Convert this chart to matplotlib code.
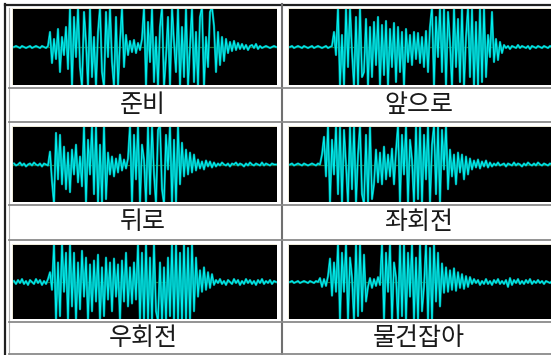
import numpy as np
import matplotlib
matplotlib.use("Agg")
import matplotlib.pyplot as plt
from matplotlib.patches import Rectangle

plt.rcParams['font.family'] = ['Noto Sans CJK KR', 'DejaVu Sans']

# command words under each waveform
words = ["준비", "앞으로", "뒤로", "좌회전", "우회전", "물건잡아"]

# waveform samples (px of deflection, +-40 means clipped)
junbi = [0,1,0,-1,1,0,-1,0,1,-1,0,1,0,-1,1,0,-1,1,
         15,-16,
         8,-12,18,-25,10,-8,20,-22,
         40,-40,30,-10,40,-20,-40,35,5,-40,40,-30,10,-40,15,40,-25,-40,35,-10,40,-15,-40,30,-40,5,40,-20,
         12,-8,6,-5,7,-6,4,-3,8,
         40,-40,25,-15,40,-35,10,-40,20,40,-40,-10,30,-40,40,5,-25,40,-40,20,-30,40,-40,0,40,-35,15,-40,30,40,-40,10,-20,35,40,
         21,-25,15,-18,10,-14,8,
         -6,5,-4,6,-3,4,-2,
         3,-2,2,-3,1,2,-1,3,-2,1,-1,
         0,1,0,-1,0,1,0]
apuro = [0,1,-1,0,1,0,-1,1,0,-1,0,1,-1,0,1,0,-1,0,1,-1,0,1,
         15,-8,
         40,-40,12,-40,40,-20,40,-5,-40,30,-40,40,-30,
         -25,28,-40,20,-30,25,-18,30,-40,22,-28,26,-40,18,-20,24,-35,20,-25,15,-40,18,-15,12,-18,15,-12,14,-16,10,-20,16,-25,20,
         40,-40,30,-10,40,-25,40,-40,35,5,-40,40,-20,28,-35,40,-40,10,40,-30,38,-40,25,-40,40,-35,40,-30,
         12,-10,35,-15,8,-13,5,-6,
         2,-1,1,-2,1,0,-1,2,-1,1,0,-1,1,-2,1,0,-1,1,0,-1,1,0,-1,1,0]
dwiro = [1,-1,0,2,-1,1,-2,0,1,-1,2,0,-1,1,-2,1,0,-1,
         13,-17,
         -40,32,-15,30,-20,
         18,-25,12,-28,15,-10,20,-18,8,-22,
         40,-40,25,-10,40,-30,40,-40,20,-40,40,-35,
         12,-10,8,-12,6,-8,10,-6,5,-4,6,
         40,-40,30,-15,40,-40,20,5,-40,40,-30,40,-10,-40,35,40,-25,-40,30,-5,40,-40,25,-40,40,-20,
         22,-12,15,-10,12,-8,10,-6,
         5,-4,3,-5,4,-2,3,-3,2,-2,
         1,-1,2,0,-1,1,-2,1,0,2,-1,1,0,-2,1,-1,2,0,-1,1,0,-1,2,-1,1,0,-1,1,0,0]
jwahoejeon = [0,1,-1,0,1,0,-1,1,0,-1,0,1,0,-1,1,0,
              10,28,-12,
              40,-40,25,-10,40,-30,40,-40,35,0,-40,40,-25,40,-40,10,40,-30,-40,30,-40,40,-35,
              -20,15,-18,12,-20,18,-15,10,-12,16,-20,14,
              40,-40,30,-10,40,-40,25,5,-40,40,-35,40,-40,30,-15,40,-40,20,40,-30,40,-40,35,-5,40,-25,
              15,-12,10,-20,12,-8,10,-15,8,-10,6,
              -5,4,-3,5,-4,3,-2,4,-3,2,-2,
              1,-1,2,-1,0,1,-2,1,0,-1,2,-1,1,0,-2,1,-1,2,0,-1,1,-1,2,0,-1,1,0,-1,1,0]
uhoejeon = [1,-2,2,-1,3,-2,1,-3,2,0,-2,3,-1,2,-3,1,-2,3,
            10,-8,
            40,-40,20,-35,40,-10,30,-40,40,
            -25,30,-40,20,-28,32,-15,25,-40,18,-30,22,-20,28,-40,15,-35,25,-18,20,-30,24,-15,18,-40,22,-20,30,-25,15,-22,20,-18,
            40,-40,30,-40,40,-40,25,-40,40,-30,-40,20,-40,15,-40,25,-35,40,-40,40,-40,30,-40,40,-40,35,-40,40,-30,25,
            -15,12,-10,15,-8,10,-6,8,
            -3,2,-1,3,-2,1,-3,2,0,-2,3,-1,2,-3,1,-2,3,-1,2,-2,1,-3,2,-1,3,-2,1,-1,2,-2,1,0]
mulgeon = [0,1,-1,0,1,-1,0,1,0,-1,1,0,-1,1,0,
           4,-5,3,-4,6,
           24,-14,20,-10,
           40,-40,30,-10,40,-40,25,5,-40,40,-35,40,-30,28,-20,
           -5,4,-6,3,-4,5,-3,
           40,-40,30,-10,40,-40,20,5,-40,40,-35,40,-40,30,-15,40,-40,25,-40,40,-30,-5,40,-40,35,-40,40,-20,30,-25,
           19,-11,15,-10,12,-8,14,-9,10,-6,8,-7,6,-5,5,
           -2,3,-1,2,-3,1,-2,3,-2,1,-3,2,-1,3,-2,1,-2,2,-5,4,-3,2,-1,3,-2,1,-2,2,-1,3,-2,1,-1,2,-1,1,-2,1,0,-1,1]
waves = [junbi, apuro, dwiro, jwahoejeon, uhoejeon, mulgeon]

W, H = 551, 355
fig = plt.figure(figsize=(W/100, H/100), dpi=100)
base = fig.add_axes([0, 0, 1, 1])
base.set_xlim(0, W); base.set_ylim(H, 0)
base.axis('off')

def figrect(x0, y0, x1, y1):
    return [x0/W, 1 - y1/H, (x1-x0)/W, (y1-y0)/H]

# table lines
grey = '#8a8a8a'
base.plot([5, W], [4.5, 4.5], color='#202020', lw=1.6)
base.plot([5, 5], [4, H], color='#202020', lw=1.6)
base.plot([9, 9], [8, H], color='#b0b0b0', lw=0.8)
base.plot([282, 282], [4, H], color='#707070', lw=1.5)
for y in [87.5, 122, 204.5, 240, 322, 354]:
    base.plot([9, W], [y, y], color=grey, lw=1.3)

cols = [(13, 277), (289, 553)]
rows = [(9, 85, 105), (127, 202, 222), (245, 319, 338)]
label_x = [143, 419]

for k in range(6):
    r, c = k // 2, k % 2
    x0, x1 = cols[c]
    y0, y1, ly = rows[r]
    base.add_patch(Rectangle((x0-1.5, y0-1.5), x1-x0+1.5, y1-y0+1.5, color='#ece9d8', lw=0))
    ax = fig.add_axes(figrect(x0, y0, x1, y1))
    ax.set_facecolor('black')
    ax.axhline(0, color='#2a6a2a', lw=0.9)
    xs = np.arange(len(waves[k]))
    ax.plot(xs, waves[k], color='#009c9c', lw=1.6)
    ax.plot(xs, waves[k], color='#00f4f4', lw=0.7)
    ax.set_xlim(-0.5, len(waves[k]) - 0.5)
    ax.set_ylim(-38, 38)
    ax.set_xticks([]); ax.set_yticks([])
    for s in ax.spines.values():
        s.set_visible(False)
    base.text(label_x[c], ly, words[k], ha='center', va='center', fontsize=18,
              color='#1a1a1a', fontweight='light')

plt.savefig('out.png', dpi=100)
plt.close()
